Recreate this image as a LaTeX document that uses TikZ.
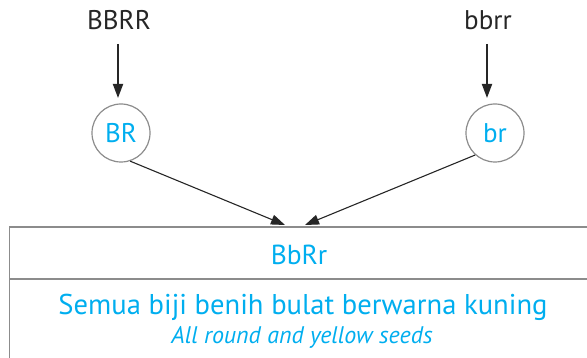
\documentclass[tikz,border=0pt]{standalone}
\usepackage{fontspec}
\setmainfont{PT Sans}
\usetikzlibrary{arrows.meta}
\definecolor{cy}{RGB}{0,174,239}
\definecolor{gr}{RGB}{140,140,140}
\begin{document}
\begin{tikzpicture}[x=1pt,y=-1pt,
  lbl/.style={font=\fontsize{27}{30}\selectfont, text=black!85},
  gam/.style={circle, draw=gr, line width=1.2pt, minimum size=58pt, inner sep=0pt, text=cy, font=\fontsize{27}{30}\selectfont},
  arr/.style={-{Triangle[length=14pt,width=10pt]}, line width=1.8pt, black!85},
  arrd/.style={-{Triangle[length=14pt,width=10pt]}, line width=1.1pt, black!85},
  bx/.style={draw=gr, line width=1.5pt}]
\useasboundingbox (0,0) rectangle (587,358);
\node[lbl] (P1) at (119,20) {BBRR};
\node[lbl] (P2) at (488,20) {bbrr};
\node[gam] (G1) at (121,133) {BR};
\node[gam] (G2) at (495,133) {br};
\coordinate (A1s) at (118,44);
\coordinate (A1e) at (118,98);
\coordinate (A2s) at (487,44);
\coordinate (A2e) at (487,98);
\draw[arr] (A1s) -- (A1e);
\draw[arr] (A2s) -- (A2e);
\coordinate (T1) at (285,225);
\coordinate (T2) at (305,225);
\draw[arrd] (G1.-72) -- (T1);
\draw[arrd] (G2.-132) -- (T2);
\draw[bx] (600,227) -- (9.5,227) -- (9.5,370);
\draw[bx] (9.5,279) -- (600,279);
\node[text=cy, font=\fontsize{27.5}{30}\selectfont] (F1) at (299,255) {BbRr};
\node[text=cy, font=\fontsize{28.6}{30}\selectfont] (D1) at (303,307) {Semua biji benih bulat berwarna kuning};
\node[text=cy, font=\fontsize{24}{26}\selectfont\itshape] (D2) at (302,337) {All round and yellow seeds};
\end{tikzpicture}
\end{document}
